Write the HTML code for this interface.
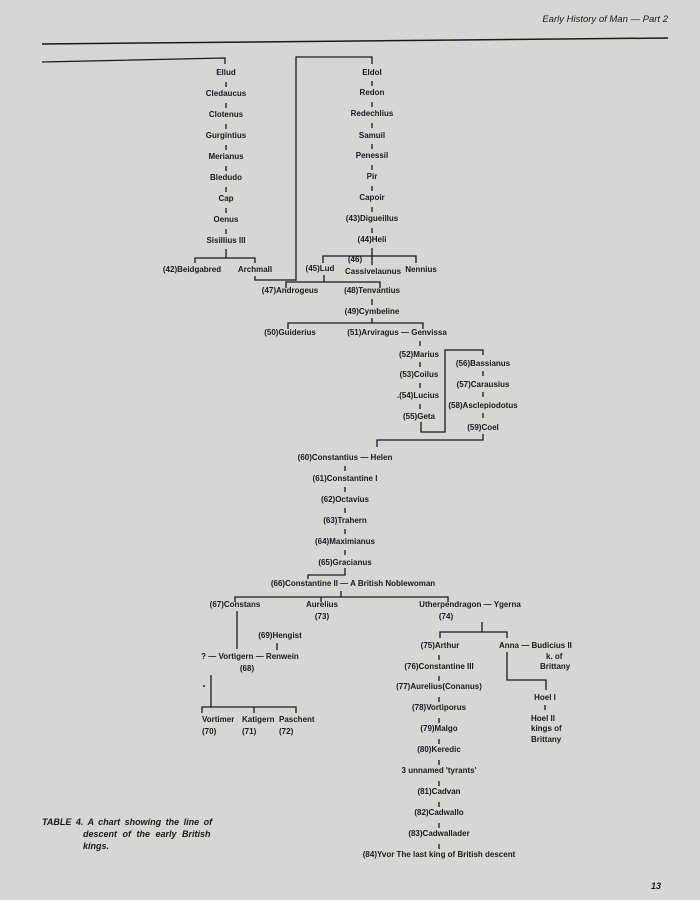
<!DOCTYPE html>
<html><head><meta charset="utf-8"><style>
html,body{margin:0;padding:0}
body{width:700px;height:900px;background:#d6d6d4;position:relative;overflow:hidden;font-family:"Liberation Sans",Arial,sans-serif;color:#1a1a1a}
.t{position:absolute;font-size:8px;font-weight:bold;white-space:nowrap;line-height:10px;transform:translate(-50%,-50%)}
.l{position:absolute;font-size:8px;font-weight:bold;white-space:nowrap;line-height:10px;transform:translateY(-50%)}
svg{position:absolute;left:0;top:0}
.cap{position:absolute;font-size:9px;font-weight:bold;font-style:italic;line-height:12px;white-space:nowrap}
</style></head><body>
<svg width="700" height="900" fill="none" stroke="#1a1a1a" stroke-width="1.3">
<path d="M42 44 L668 38" stroke-width="1.5"/>
<path d="M42 62 L225 58 L225 64"/>
<path d="M226 82v5M226 103v5M226 124v5M226 145v5M226 166v5M226 187v5M226 208v5M226 229v5"/>
<path d="M226 249v9M195 263v-5h60v5"/>
<path d="M255 276v4h41V57h76v7"/>
<path d="M372 81v5M372 102v5M372 123v5M372 144v5M372 165v5M372 186v5M372 207v5M372 228v5"/>
<path d="M372 248v17M323 263v-7h93v7"/>
<path d="M324 275v7M286 288v-6h94v6"/>
<path d="M372 299v6M372 318v5M288 329v-6h135v6"/>
<path d="M420 341v5M420 362v5M420 383v5M420 404v5"/>
<path d="M421 422v10h24V350h38v5"/>
<path d="M483 371v5M483 392v5M483 413v5"/>
<path d="M483 434v6H377v7"/>
<path d="M345 466v5M345 487v5M345 508v5M345 529v5M345 550v5"/>
<path d="M345 568v7h-37v4"/>
<path d="M341 591v6M235 602v-5h213v5M321 597v5"/>
<path d="M237 611v38M277 643v7"/>
<path d="M211 675v32M202 713v-6h94v6M254 707v6"/>
<path d="M482 622v10M440 638v-6h67v6"/>
<path d="M507 652v28h39v10M545 705v5"/>
<path d="M439 655v5M439 676v5M439 697v5M439 718v5M439 739v5M439 760v5M439 781v5M439 802v5M439 823v5M439 844v5"/>
<circle cx="204" cy="686" r="1" fill="#1a1a1a" stroke="none"/>
</svg>
<div class="l" style="right:32px;top:20px;font-style:italic;font-weight:normal;font-size:9.5px">Early History of Man — Part 2</div>

<div class="t" style="left:226px;top:73px">Ellud</div>
<div class="t" style="left:226px;top:94px">Cledaucus</div>
<div class="t" style="left:226px;top:115px">Clotenus</div>
<div class="t" style="left:226px;top:136px">Gurgintius</div>
<div class="t" style="left:226px;top:157px">Merianus</div>
<div class="t" style="left:226px;top:178px">Bledudo</div>
<div class="t" style="left:226px;top:199px">Cap</div>
<div class="t" style="left:226px;top:220px">Oenus</div>
<div class="t" style="left:226px;top:241px">Sisillius III</div>
<div class="t" style="left:192px;top:270px">(42)Beidgabred</div>
<div class="t" style="left:255px;top:270px">Archmall</div>

<div class="t" style="left:372px;top:73px">Eldol</div>
<div class="t" style="left:372px;top:93px">Redon</div>
<div class="t" style="left:372px;top:114px">Redechlius</div>
<div class="t" style="left:372px;top:136px">Samuil</div>
<div class="t" style="left:372px;top:156px">Penessil</div>
<div class="t" style="left:372px;top:177px">Pir</div>
<div class="t" style="left:372px;top:198px">Capoir</div>
<div class="t" style="left:372px;top:219px">(43)Digueillus</div>
<div class="t" style="left:372px;top:240px">(44)Heli</div>
<div class="t" style="left:320px;top:269px">(45)Lud</div>
<div class="t" style="left:355px;top:260px">(46)</div>
<div class="t" style="left:373px;top:272px">Cassivelaunus</div>
<div class="t" style="left:421px;top:270px">Nennius</div>
<div class="t" style="left:290px;top:291px">(47)Androgeus</div>
<div class="t" style="left:372px;top:291px">(48)Tenvantius</div>
<div class="t" style="left:372px;top:312px">(49)Cymbeline</div>
<div class="t" style="left:290px;top:333px">(50)Guiderius</div>
<div class="t" style="left:397px;top:333px">(51)Arviragus — Genvissa</div>
<div class="t" style="left:419px;top:355px">(52)Marius</div>
<div class="t" style="left:419px;top:375px">(53)Coilus</div>
<div class="t" style="left:418px;top:396px">.(54)Lucius</div>
<div class="t" style="left:419px;top:417px">(55)Geta</div>
<div class="t" style="left:483px;top:364px">(56)Bassianus</div>
<div class="t" style="left:483px;top:385px">(57)Carausius</div>
<div class="t" style="left:483px;top:406px">(58)Asclepiodotus</div>
<div class="t" style="left:483px;top:428px">(59)Coel</div>
<div class="t" style="left:345px;top:458px">(60)Constantius — Helen</div>
<div class="t" style="left:345px;top:479px">(61)Constantine I</div>
<div class="t" style="left:345px;top:500px">(62)Octavius</div>
<div class="t" style="left:345px;top:521px">(63)Trahern</div>
<div class="t" style="left:345px;top:542px">(64)Maximianus</div>
<div class="t" style="left:345px;top:563px">(65)Gracianus</div>
<div class="t" style="left:353px;top:584px">(66)Constantine II — A British Noblewoman</div>
<div class="t" style="left:235px;top:605px">(67)Constans</div>
<div class="t" style="left:322px;top:605px">Aurelius</div>
<div class="t" style="left:322px;top:617px">(73)</div>
<div class="t" style="left:470px;top:605px">Utherpendragon — Ygerna</div>
<div class="t" style="left:446px;top:617px">(74)</div>
<div class="t" style="left:280px;top:636px">(69)Hengist</div>
<div class="t" style="left:250px;top:657px">? — Vortigern — Renwein</div>
<div class="t" style="left:247px;top:669px">(68)</div>
<div class="l" style="left:202px;top:720px">Vortimer</div>
<div class="l" style="left:202px;top:732px">(70)</div>
<div class="l" style="left:242px;top:720px">Katigern</div>
<div class="l" style="left:242px;top:732px">(71)</div>
<div class="l" style="left:279px;top:720px">Paschent</div>
<div class="l" style="left:279px;top:732px">(72)</div>
<div class="t" style="left:440px;top:646px">(75)Arthur</div>
<div class="l" style="left:499px;top:646px">Anna — Budicius II</div>
<div class="l" style="left:546px;top:657px">k. of</div>
<div class="l" style="left:540px;top:667px">Brittany</div>
<div class="t" style="left:545px;top:698px">Hoel I</div>
<div class="l" style="left:531px;top:719px">Hoel II</div>
<div class="l" style="left:531px;top:729px">kings of</div>
<div class="l" style="left:531px;top:740px">Brittany</div>
<div class="t" style="left:439px;top:667px">(76)Constantine III</div>
<div class="t" style="left:439px;top:687px">(77)Aurelius(Conanus)</div>
<div class="t" style="left:439px;top:708px">(78)Vortiporus</div>
<div class="t" style="left:439px;top:729px">(79)Malgo</div>
<div class="t" style="left:439px;top:750px">(80)Keredic</div>
<div class="t" style="left:439px;top:771px">3 unnamed 'tyrants'</div>
<div class="t" style="left:439px;top:792px">(81)Cadvan</div>
<div class="t" style="left:439px;top:813px">(82)Cadwallo</div>
<div class="t" style="left:439px;top:834px">(83)Cadwallader</div>
<div class="t" style="left:439px;top:855px">(84)Yvor The last king of British descent</div>

<div class="cap" style="left:42px;top:816px;word-spacing:2px">TABLE 4. A chart showing the line of</div>
<div class="cap" style="left:83px;top:828px;word-spacing:3px">descent of the early British</div>
<div class="cap" style="left:83px;top:840px">kings.</div>
<div class="l" style="left:651px;top:886px;font-style:italic;font-size:9px">13</div>
</body></html>
